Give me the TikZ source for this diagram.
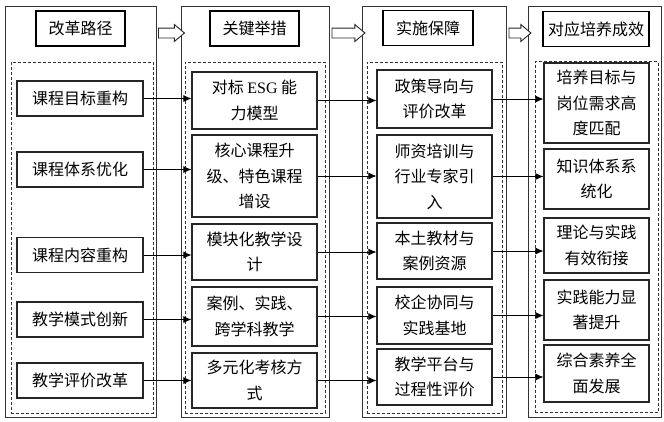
\documentclass[tikz,border=0pt]{standalone}
\usepackage{fontspec}
\setmainfont{Liberation Serif}
\newfontfamily\cjk{Noto Sans CJK SC}
\usetikzlibrary{shapes.arrows,arrows.meta}

\begin{document}
\begin{tikzpicture}[x=1pt,y=-1pt]
        \tikzstyle{panel}=[draw=black!80, line width=0.8pt, inner sep=0pt, minimum height=411]
        \tikzstyle{group}=[draw=black!80, densely dashed, line width=0.7pt, inner sep=0pt, minimum height=351]
        \tikzstyle{title}=[draw=black, line width=1.8pt, inner sep=0pt, minimum height=35, font=\cjk\fontsize{16}{25.5}\selectfont]
        \tikzstyle{cell}=[draw=black!85, line width=1.1pt, inner sep=0pt, align=center, font=\cjk\fontsize{16}{25.5}\selectfont]
        \tikzstyle{bigarrow}=[single arrow, draw=black!85, line width=0.9pt, fill=white, inner xsep=0pt, inner ysep=4.5pt, single arrow head extend=3.5pt, single arrow tip angle=80]
        \tikzstyle{link}=[line width=0.8pt, -{Latex[length=8pt, width=7pt]}]

        \useasboundingbox (0,0) rectangle (664,421);

        % Panels
        \node[panel, minimum width=151] (c1) at (80.5, 211.5) {};
        \node[panel, minimum width=148] (c2) at (255, 212) {};
        \node[panel, minimum width=144] (c3) at (434, 212) {};
        \node[panel, minimum width=133] (c4) at (594.5, 212) {};

        \node[group, minimum width=142] (d1) at (82, 237.5) {};
        \node[group, minimum width=140] (d2) at (255, 237.5) {};
        \node[group, minimum width=135] (d3) at (434.5, 237.5) {};
        \node[group, minimum width=123] (d4) at (596.5, 237) {};

        % Titles
        \node[title, minimum width=89] (h1) at (80.5, 28.5) {改革路径};
        \node[title, minimum width=89] (h2) at (254.5, 28.5) {关键举措};
        \node[title, minimum width=90] (h3) at (428, 28) {实施保障};
        \node[title, minimum width=106] (h4) at (596, 29) {对应培养成效};

        % Column 1
        \node[cell, minimum width=126, minimum height=35] (p1) at (80, 98.5) {课程目标重构};
        \node[cell, minimum width=126, minimum height=35] (p2) at (80, 169.5) {课程体系优化};
        \node[cell, minimum width=126, minimum height=35] (p3) at (80, 255) {课程内容重构};
        \node[cell, minimum width=126, minimum height=35] (p4) at (80, 319.5) {教学模式创新};
        \node[cell, minimum width=126, minimum height=35] (p5) at (80, 380.5) {教学评价改革};

        % Column 2
        \node[cell, minimum width=125, minimum height=57] (k1) at (254.5, 100.5) {对标 {\rmfamily ESG} 能\\力模型};
        \node[cell, minimum width=125, minimum height=82] (k2) at (254.5, 176) {核心课程升\\级、特色课程\\增设};
        \node[cell, minimum width=125, minimum height=56] (k3) at (254.5, 252) {模块化教学设\\计};
        \node[cell, minimum width=125, minimum height=59] (k4) at (254.5, 316.5) {案例、实践、\\跨学科教学};
        \node[cell, minimum width=125, minimum height=55] (k5) at (254.5, 380.5) {多元化考核方\\式};

        % Column 3
        \node[cell, minimum width=115, minimum height=58] (s1) at (434.5, 99) {政策导向与\\评价改革};
        \node[cell, minimum width=115, minimum height=83] (s2) at (434.5, 176.5) {师资培训与\\行业专家引\\入};
        \node[cell, minimum width=115, minimum height=56] (s3) at (434.5, 251) {本土教材与\\案例资源};
        \node[cell, minimum width=115, minimum height=57] (s4) at (434.5, 315.5) {校企协同与\\实践基地};
        \node[cell, minimum width=115, minimum height=56] (s5) at (434.5, 377) {教学平台与\\过程性评价};

        % Column 4
        \node[cell, minimum width=105, minimum height=80] (r1) at (596.5, 103) {培养目标与\\岗位需求高\\度匹配};
        \node[cell, minimum width=105, minimum height=60] (r2) at (596.5, 179) {知识体系系\\统化};
        \node[cell, minimum width=105, minimum height=55] (r3) at (596.5, 245.5) {理论与实践\\有效衔接};
        \node[cell, minimum width=105, minimum height=60] (r4) at (596.5, 310) {实践能力显\\著提升};
        \node[cell, minimum width=105, minimum height=57] (r5) at (596.5, 373.5) {综合素养全\\面发展};

        % Hollow arrows
        \coordinate (top) at (0, 33);
        \path (c1.east |- top) -- node[bigarrow, minimum height=26] (g1) {} (c2.west |- top);
        \path (c2.east |- top) -- node[bigarrow, minimum height=33] (g2) {} (c3.west |- top);
        \path (c3.east |- top) -- node[bigarrow, minimum height=22] (g3) {} (c4.west |- top);

        % Edges
        \draw [link] (p1.east) -- (p1.east -| k1.west);
        \draw [link] (p2.east) -- (p2.east -| k2.west);
        \draw [link] (p3.east) -- (p3.east -| k3.west);
        \draw [link] (p4.east) -- (p4.east -| k4.west);
        \draw [link] (p5.east) -- (p5.east -| k5.west);

        \draw [link] (k1.east) -- (k1.east -| s1.west);
        \draw [link] (k2.east) -- (k2.east -| s2.west);
        \draw [link] (k3.east) -- (k3.east -| s3.west);
        \draw [link] (k4.east) -- (k4.east -| s4.west);
        \draw [link] (k5.east) -- (k5.east -| s5.west);

        \draw [link] (s1.east) -- (s1.east -| r1.west);
        \draw [link] (s2.east) -- (s2.east -| r2.west);
        \draw [link] (s3.east) -- (s3.east -| r3.west);
        \draw [link] (s4.east) -- (s4.east -| r4.west);
        \draw [link] (s5.east) -- (s5.east -| r5.west);

    \end{tikzpicture}
\end{document}
